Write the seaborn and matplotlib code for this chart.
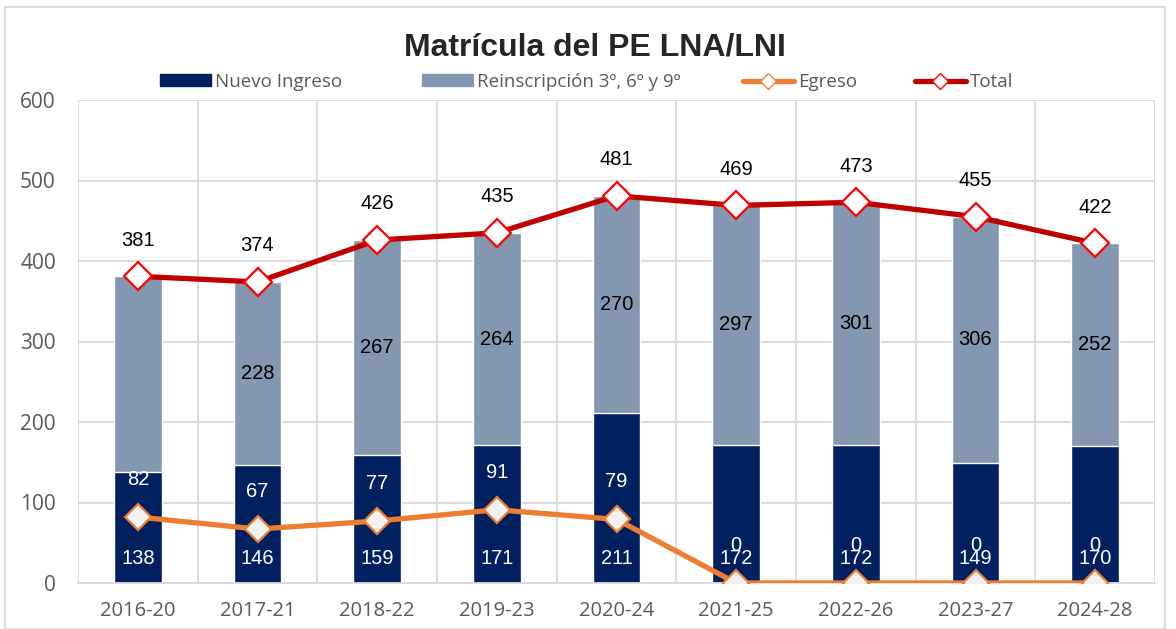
import matplotlib
matplotlib.use("Agg")
import matplotlib.pyplot as plt
import seaborn as sns
import numpy as np
import pandas as pd
from matplotlib.patches import Patch, Rectangle
from matplotlib.lines import Line2D

periods = ["2016-20", "2017-21", "2018-22", "2019-23", "2020-24",
           "2021-25", "2022-26", "2023-27", "2024-28"]
nuevo = [138, 146, 159, 171, 211, 172, 172, 149, 170]
reins = [243, 228, 267, 264, 270, 297, 301, 306, 252]
reins_labels = [None, 228, 267, 264, 270, 297, 301, 306, 252]
egreso = [82, 67, 77, 91, 79, 0, 0, 0, 0]
total = [381, 374, 426, 435, 481, 469, 473, 455, 422]

NAVY = "#002060"
GREY = "#8497B0"
ORANGE = "#ED7D31"
RED = "#C00000"
TXT = "#595959"

sns.set_style("white")
plt.rcParams['font.family'] = ['Open Sans', 'DejaVu Sans']
NARROW = ['Liberation Sans Narrow', 'Liberation Sans', 'DejaVu Sans']

fig = plt.figure(figsize=(11.76, 6.29), dpi=100)
ax = fig.add_axes([78/1176, 1-583/629, (1155-78)/1176, (583-100)/629])

df = pd.DataFrame({"period": periods, "nuevo": nuevo, "reins": reins,
                   "egreso": egreso, "total": total})
df["stack"] = df["nuevo"] + df["reins"]

sns.barplot(data=df, x="period", y="stack", color=GREY, width=0.4,
            saturation=1, ax=ax, zorder=2)
sns.barplot(data=df, x="period", y="nuevo", color=NAVY, width=0.4,
            saturation=1, ax=ax, zorder=2)

xpos = np.arange(len(periods))
ax.plot(xpos, egreso, color=ORANGE, lw=3.8, marker="D", ms=13,
        mfc="#F2F2F2", mec=ORANGE, mew=1.6, zorder=4)
ax.plot(xpos, total, color=RED, lw=3.8, marker="D", ms=14,
        mfc="white", mec="#FF0000", mew=1.6, zorder=5)

FS = 14.5
for i in range(len(periods)):
    ax.annotate(str(nuevo[i]), (xpos[i], 31), ha="center", va="center",
                color="white", fontsize=FS, family=NARROW, zorder=6)
    ax.annotate(str(egreso[i]), (xpos[i], egreso[i]), xytext=(0, 27),
                textcoords="offset points", ha="center", va="center",
                color="white", fontsize=FS, family=NARROW, zorder=6)
    ax.annotate(str(total[i]), (xpos[i], total[i]), xytext=(0, 26),
                textcoords="offset points", ha="center", va="center",
                color="black", fontsize=FS, family=NARROW, zorder=6)
    if reins_labels[i] is not None:
        ax.annotate(str(reins_labels[i]), (xpos[i], nuevo[i] + reins[i] / 2),
                    ha="center", va="center", color="black", fontsize=FS,
                    family=NARROW, zorder=6)

ax.set_xlim(-0.5, len(periods) - 0.5)
ax.set_ylim(0, 600)
ax.set_yticks(range(0, 601, 100))
ax.set_xticks(xpos)
ax.set_xticklabels(periods)
ax.set_xticks(np.arange(-0.5, len(periods), 1), minor=True)
ax.grid(axis="y", which="major", color="#D9D9D9", lw=1.3, zorder=0)
ax.grid(axis="x", which="minor", color="#D9D9D9", lw=1.3, zorder=0)
ax.grid(axis="x", which="major", visible=False)
ax.set_axisbelow(True)
for s in ax.spines.values():
    s.set_visible(False)
ax.spines["bottom"].set_visible(True)
ax.spines["bottom"].set_color("#D9D9D9")
ax.spines["bottom"].set_linewidth(1.3)
ax.tick_params(axis="both", which="both", length=0, colors=TXT)
ax.tick_params(axis="x", pad=13, labelsize=14.5)
ax.tick_params(axis="y", pad=16, labelsize=15)
ax.set_xlabel("")
ax.set_ylabel("")

fig.text(595/1176, 1-48/629, "Matrícula del PE LNA/LNI", ha="center",
         va="center", fontsize=23, fontweight="bold", family=NARROW)

handles = [
    Patch(facecolor=NAVY, edgecolor=NAVY),
    Patch(facecolor=GREY, edgecolor=GREY),
    Line2D([], [], color=ORANGE, lw=3.8, marker="D", ms=8, mfc="white", mec=ORANGE),
    Line2D([], [], color=RED, lw=3.8, marker="D", ms=8, mfc="white", mec="#FF0000"),
]
labels = ["Nuevo Ingreso", "Reinscripción 3º, 6º y 9º", "Egreso", "Total"]
starts = [160, 422, 743, 915]
for h, l, s in zip(handles, labels, starts):
    fig.legend([h], [l], loc="center left",
               bbox_to_anchor=(s/1176, 1-82/629), frameon=False,
               fontsize=13.5, handlelength=2.7, handleheight=0.6,
               handletextpad=0.25, borderpad=0, borderaxespad=0,
               labelcolor=TXT)

fig.add_artist(Rectangle((5/1176, 0), 1160/1176, 1-7/629,
                         transform=fig.transFigure, fill=False,
                         edgecolor="#D9D9D9", lw=1.3))

fig.savefig("out.png", dpi=100)
